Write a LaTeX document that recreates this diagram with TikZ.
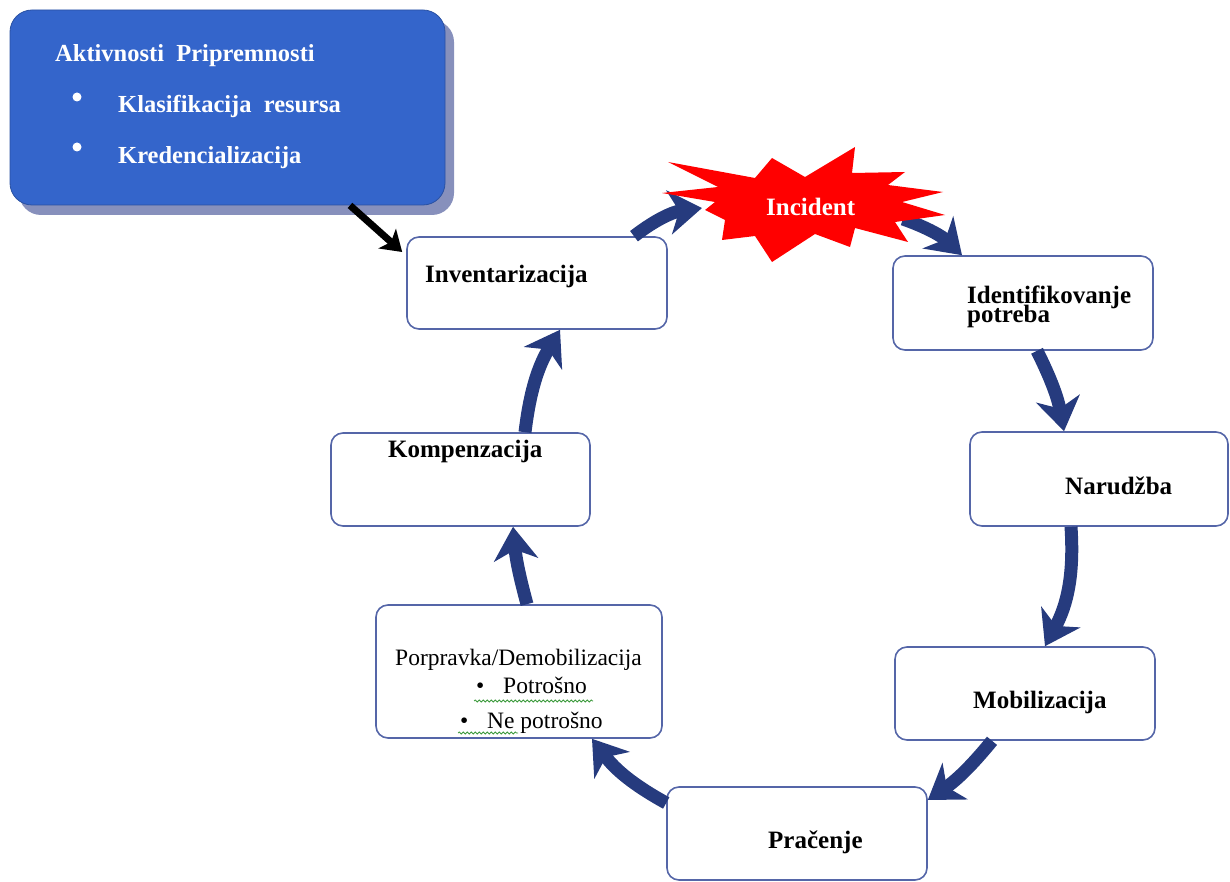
\documentclass[tikz,border=0pt]{standalone}
\usepackage{fontspec}
\setmainfont{Liberation Serif}
\usetikzlibrary{arrows.meta,calc,decorations.pathmorphing}
\definecolor{navy}{HTML}{263B7E}
\definecolor{boxc}{HTML}{5566A8}
\definecolor{blueb}{HTML}{3465CB}
\definecolor{bshadow}{HTML}{8790BC}
\definecolor{wavyc}{HTML}{3C9A3C}
\newcommand\mytightlines{\lineskiplimit-50pt\relax\lineskip0pt\relax}
\begin{document}
\begin{tikzpicture}[x=1pt,y=-1pt,
  stagebox/.style={draw=boxc, line width=1.6pt, rounded corners=12pt, fill=white, inner sep=0pt},
  lbl/.style={anchor=base west, inner sep=0pt, font=\bfseries\fontsize{25}{25}\selectfont},
  wlbl/.style={lbl, text=white, font=\bfseries\fontsize{24.5}{25}\selectfont},
  flow/.style={draw=navy, line width=13pt, -{Stealth[length=33pt,width=44pt,inset=10pt]}},
  note/.style={draw=black, line width=7pt, -{Stealth[length=20pt,width=26pt,inset=5pt]}},
  wav/.style={draw=wavyc, line width=0.8pt, decorate, decoration={snake, amplitude=1pt, segment length=4pt}}
]
\useasboundingbox (0,0) rectangle (1230,882);

% preparedness box with shadow
\node[fill=bshadow, rounded corners=22pt, minimum width=435pt, minimum height=195pt, inner sep=0pt] (prepsh) at (236.5,117.5) {};
\node[fill=blueb, draw=blueb!80!black, line width=0.8pt, rounded corners=22pt, minimum width=435pt, minimum height=195pt, inner sep=0pt] (prep) at (227.5,107.5) {};
\node[wlbl] (ptitle) at (55,62) {Aktivnosti\ \ Pripremnosti};
\node[fill=white, circle, minimum size=9pt, inner sep=0pt] (b1) at (77,97) {};
\node[fill=white, circle, minimum size=9pt, inner sep=0pt] (b2) at (77,147) {};
\node[wlbl] (pi1) at (118,113) {Klasifikacija\ \ resursa};
\node[wlbl] (pi2) at (118,164) {Kredencializacija};

% stage boxes
\node[stagebox, minimum width=260pt, minimum height=92pt] (inv) at (537,283) {};
\node[stagebox, minimum width=260pt, minimum height=94pt] (ident) at (1023,303) {};
\node[stagebox, minimum width=258pt, minimum height=94pt] (nar) at (1099,479) {};
\node[stagebox, minimum width=260pt, minimum height=93pt] (mob) at (1025,693.5) {};
\node[stagebox, minimum width=260pt, minimum height=93pt] (prac) at (797,833.5) {};
\node[stagebox, minimum width=286pt, minimum height=133pt] (porp) at (519,671.5) {};
\node[stagebox, minimum width=259pt, minimum height=93pt] (komp) at (460.5,479.5) {};

% labels
\node[lbl, align=left, font=\bfseries\fontsize{25}{20}\selectfont\mytightlines] (tid) at (967,323) {Identifikovanje\\potreba};
\node[lbl] (tinv) at (425,283) {Inventarizacija};
\node[lbl] (tnar) at (1065,494) {Narudžba};
\node[lbl] (tmob) at (973,708) {Mobilizacija};
\node[lbl] (tprac) at (768,848) {Pračenje};
\node[lbl] (tkomp) at (388,457) {Kompenzacija};
\node[lbl, font=\fontsize{23.5}{24}\selectfont] (tporp) at (395,665) {Porpravka/Demobilizacija};
\node[lbl, font=\fontsize{23.5}{24}\selectfont] (tb1) at (476,693) {\textbullet};
\node[lbl, font=\fontsize{23.5}{24}\selectfont] (tpot) at (503,693) {Potrošno};
\node[lbl, font=\fontsize{23.5}{24}\selectfont] (tb2) at (460,728) {\textbullet};
\node[lbl, font=\fontsize{23.5}{24}\selectfont] (tnep) at (487,728) {Ne potrošno};
\draw[wav] (474,701) -- (593,701);
\draw[wav] (458,733) -- (518,733);

% coordinates at the incident burst
\coordinate (incW) at (702,208);
\coordinate (incE) at (903,219);

% cycle arrows
\draw[flow] (incE) to[bend left=12] ([xshift=-61pt]ident.north);
\draw[flow] ([xshift=14pt]ident.south) to[bend left=8] ([xshift=-35pt]nar.north);
\draw[flow] ([xshift=-28pt]nar.south) to[bend left=16] ([xshift=20pt]mob.north);
\draw[flow] ([xshift=-33pt]mob.south) to[bend left=8] ([yshift=33.5pt]prac.east);
\draw[flow] ([yshift=30.5pt]prac.west) to[bend left=12] ([xshift=73pt]porp.south);
\draw[flow] ([xshift=8pt]porp.north) to[bend left=5] ([xshift=52.5pt]komp.south);
\draw[flow] ([xshift=64.5pt]komp.north) to[bend left=12] ([xshift=23pt]inv.south);
\draw[flow] ([xshift=97pt]inv.north) to[bend left=15] (incW);

% note arrow
\draw[note] ([xshift=122.5pt]prep.south) -- ([xshift=-4pt,yshift=31pt]inv.west);

% incident burst
\fill[red] (662,193) -- (718,187) -- (668,162) -- (755,178) -- (772,158) -- (805,177)
  -- (855,147) -- (852,173) -- (905,172) -- (888,185) -- (943,192) -- (902,202)
  -- (945,215) -- (895,222) -- (908,242) -- (855,228) -- (850,247) -- (815,234)
  -- (772,262) -- (755,236) -- (722,240) -- (725,220) -- (705,210) -- (715,202) -- cycle;
\node[wlbl, font=\bfseries\fontsize{25}{25}\selectfont] (inc) at (766,216) {Incident};
\end{tikzpicture}
\end{document}
